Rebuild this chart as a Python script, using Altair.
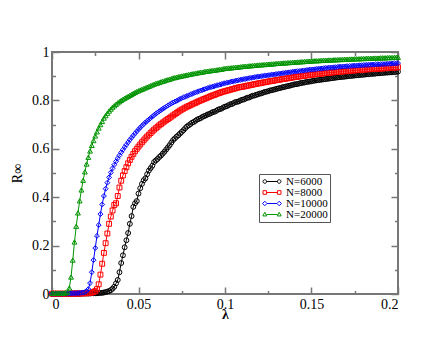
import altair as alt
import pandas as pd

# lambda sampling grid (step 0.001 from 0 to 0.2)
LAMBDA = [round(i * 0.001, 3) for i in range(201)]

LABELS = ["N=6000", "N=8000", "N=10000", "N=20000"]
COLORS = ["#000000", "#ff0000", "#0000ff", "#009400"]
SHAPES = ["circle", "square", "diamond", "triangle-up"]

R_6000 = [
    0.001, 0.001, 0.001, 0.001, 0.001, 0.001, 0.001, 0.001, 0.001, 0.001,
    0.001, 0.001, 0.001, 0.001, 0.001, 0.001, 0.001, 0.002, 0.002, 0.002,
    0.002, 0.002, 0.002, 0.003, 0.003, 0.003, 0.003, 0.004, 0.004, 0.005,
    0.006, 0.008, 0.010, 0.012, 0.016, 0.022, 0.030, 0.044, 0.058, 0.090,
    0.128, 0.160, 0.193, 0.222, 0.252, 0.290, 0.322, 0.360, 0.375, 0.384,
    0.415, 0.437, 0.455, 0.470, 0.478, 0.495, 0.510, 0.520, 0.530, 0.545,
    0.552, 0.558, 0.566, 0.572, 0.580, 0.588, 0.597, 0.606, 0.615, 0.626,
    0.636, 0.643, 0.650, 0.656, 0.663, 0.670, 0.677, 0.685, 0.692, 0.697,
    0.702, 0.708, 0.711, 0.716, 0.721, 0.724, 0.727, 0.732, 0.735, 0.738,
    0.742, 0.744, 0.748, 0.752, 0.753, 0.757, 0.762, 0.764, 0.766, 0.771,
    0.774, 0.776, 0.780, 0.784, 0.785, 0.789, 0.793, 0.794, 0.796, 0.800,
    0.803, 0.804, 0.808, 0.811, 0.812, 0.816, 0.819, 0.820, 0.823, 0.825,
    0.828, 0.829, 0.832, 0.835, 0.836, 0.838, 0.841, 0.842, 0.844, 0.846,
    0.848, 0.850, 0.851, 0.854, 0.855, 0.857, 0.859, 0.860, 0.862, 0.864,
    0.866, 0.867, 0.868, 0.870, 0.872, 0.873, 0.874, 0.876, 0.877, 0.878,
    0.879, 0.881, 0.882, 0.883, 0.884, 0.885, 0.886, 0.887, 0.888, 0.889,
    0.890, 0.891, 0.892, 0.893, 0.894, 0.895, 0.896, 0.897, 0.897, 0.898,
    0.899, 0.900, 0.901, 0.901, 0.902, 0.903, 0.904, 0.904, 0.905, 0.906,
    0.906, 0.907, 0.908, 0.908, 0.909, 0.910, 0.910, 0.911, 0.912, 0.912,
    0.913, 0.913, 0.914, 0.915, 0.915, 0.916, 0.916, 0.917, 0.917, 0.918,
    0.919,
]

R_8000 = [
    0.001, 0.001, 0.001, 0.001, 0.001, 0.001, 0.001, 0.001, 0.001, 0.001,
    0.001, 0.001, 0.002, 0.002, 0.002, 0.002, 0.002, 0.002, 0.003, 0.003,
    0.003, 0.004, 0.005, 0.006, 0.008, 0.012, 0.020, 0.040, 0.080, 0.125,
    0.170, 0.210, 0.250, 0.290, 0.320, 0.345, 0.368, 0.375, 0.405, 0.440,
    0.468, 0.490, 0.508, 0.524, 0.540, 0.554, 0.567, 0.579, 0.590, 0.600,
    0.609, 0.618, 0.627, 0.635, 0.643, 0.651, 0.658, 0.665, 0.672, 0.679,
    0.685, 0.691, 0.697, 0.702, 0.708, 0.713, 0.718, 0.723, 0.728, 0.733,
    0.738, 0.743, 0.748, 0.753, 0.758, 0.762, 0.766, 0.770, 0.774, 0.777,
    0.780, 0.784, 0.787, 0.790, 0.794, 0.797, 0.800, 0.803, 0.806, 0.809,
    0.812, 0.815, 0.818, 0.821, 0.823, 0.826, 0.829, 0.831, 0.834, 0.836,
    0.838, 0.840, 0.842, 0.844, 0.846, 0.848, 0.850, 0.852, 0.854, 0.855,
    0.856, 0.858, 0.859, 0.861, 0.862, 0.864, 0.865, 0.867, 0.868, 0.870,
    0.871, 0.872, 0.874, 0.875, 0.876, 0.878, 0.879, 0.880, 0.881, 0.883,
    0.884, 0.885, 0.886, 0.888, 0.889, 0.890, 0.891, 0.892, 0.893, 0.895,
    0.896, 0.897, 0.898, 0.899, 0.900, 0.901, 0.902, 0.903, 0.904, 0.905,
    0.906, 0.907, 0.908, 0.909, 0.909, 0.910, 0.911, 0.912, 0.913, 0.913,
    0.914, 0.915, 0.916, 0.916, 0.917, 0.918, 0.918, 0.919, 0.920, 0.920,
    0.921, 0.922, 0.922, 0.923, 0.924, 0.924, 0.925, 0.925, 0.926, 0.926,
    0.927, 0.928, 0.928, 0.929, 0.929, 0.930, 0.930, 0.931, 0.931, 0.931,
    0.932, 0.932, 0.933, 0.933, 0.934, 0.934, 0.935, 0.935, 0.936, 0.936,
    0.937,
]

R_10000 = [
    0.001, 0.001, 0.001, 0.001, 0.001, 0.002, 0.002, 0.002, 0.002, 0.002,
    0.002, 0.003, 0.003, 0.003, 0.003, 0.004, 0.004, 0.005, 0.006, 0.008,
    0.012, 0.020, 0.045, 0.090, 0.140, 0.190, 0.240, 0.285, 0.330, 0.370,
    0.405, 0.435, 0.460, 0.482, 0.502, 0.519, 0.534, 0.548, 0.561, 0.573,
    0.585, 0.596, 0.607, 0.617, 0.627, 0.637, 0.646, 0.655, 0.664, 0.672,
    0.680, 0.688, 0.695, 0.702, 0.709, 0.715, 0.721, 0.727, 0.733, 0.739,
    0.745, 0.750, 0.755, 0.760, 0.765, 0.770, 0.774, 0.779, 0.783, 0.787,
    0.791, 0.795, 0.798, 0.802, 0.806, 0.809, 0.812, 0.815, 0.818, 0.821,
    0.824, 0.827, 0.830, 0.833, 0.836, 0.838, 0.841, 0.843, 0.846, 0.848,
    0.851, 0.853, 0.855, 0.857, 0.859, 0.861, 0.863, 0.865, 0.867, 0.869,
    0.871, 0.873, 0.874, 0.876, 0.878, 0.879, 0.881, 0.882, 0.884, 0.885,
    0.887, 0.888, 0.889, 0.891, 0.892, 0.893, 0.894, 0.896, 0.897, 0.898,
    0.899, 0.900, 0.901, 0.902, 0.903, 0.904, 0.905, 0.906, 0.907, 0.908,
    0.909, 0.910, 0.911, 0.912, 0.913, 0.914, 0.915, 0.916, 0.917, 0.918,
    0.919, 0.920, 0.921, 0.921, 0.922, 0.923, 0.924, 0.925, 0.926, 0.927,
    0.928, 0.928, 0.929, 0.930, 0.931, 0.931, 0.932, 0.933, 0.934, 0.934,
    0.935, 0.936, 0.936, 0.937, 0.937, 0.938, 0.939, 0.939, 0.940, 0.940,
    0.941, 0.941, 0.942, 0.942, 0.943, 0.943, 0.944, 0.944, 0.945, 0.945,
    0.946, 0.946, 0.947, 0.947, 0.947, 0.948, 0.948, 0.949, 0.949, 0.949,
    0.950, 0.950, 0.950, 0.951, 0.951, 0.951, 0.952, 0.952, 0.953, 0.953,
    0.954,
]

R_20000 = [
    0.003, 0.003, 0.003, 0.003, 0.003, 0.003, 0.004, 0.004, 0.005, 0.008,
    0.025, 0.070, 0.140, 0.215, 0.280, 0.335, 0.385, 0.430, 0.470, 0.505,
    0.537, 0.565, 0.591, 0.614, 0.634, 0.653, 0.670, 0.686, 0.700, 0.713,
    0.727, 0.737, 0.747, 0.756, 0.764, 0.772, 0.778, 0.784, 0.790, 0.795,
    0.800, 0.805, 0.809, 0.813, 0.817, 0.821, 0.825, 0.829, 0.833, 0.837,
    0.840, 0.843, 0.846, 0.849, 0.852, 0.855, 0.858, 0.861, 0.864, 0.867,
    0.870, 0.872, 0.874, 0.877, 0.879, 0.881, 0.884, 0.886, 0.888, 0.890,
    0.893, 0.894, 0.896, 0.898, 0.899, 0.901, 0.902, 0.904, 0.905, 0.907,
    0.908, 0.910, 0.911, 0.912, 0.914, 0.915, 0.916, 0.917, 0.919, 0.920,
    0.921, 0.922, 0.923, 0.924, 0.925, 0.926, 0.927, 0.928, 0.929, 0.931,
    0.932, 0.933, 0.934, 0.934, 0.935, 0.936, 0.937, 0.937, 0.938, 0.939,
    0.940, 0.941, 0.941, 0.942, 0.943, 0.943, 0.944, 0.945, 0.945, 0.946,
    0.947, 0.947, 0.948, 0.948, 0.949, 0.950, 0.950, 0.951, 0.951, 0.952,
    0.953, 0.953, 0.954, 0.954, 0.955, 0.955, 0.956, 0.956, 0.957, 0.957,
    0.958, 0.958, 0.959, 0.959, 0.960, 0.960, 0.961, 0.961, 0.962, 0.962,
    0.963, 0.963, 0.964, 0.964, 0.964, 0.965, 0.965, 0.966, 0.966, 0.966,
    0.967, 0.967, 0.967, 0.968, 0.968, 0.968, 0.969, 0.969, 0.969, 0.970,
    0.970, 0.970, 0.971, 0.971, 0.971, 0.972, 0.972, 0.972, 0.972, 0.973,
    0.973, 0.973, 0.974, 0.974, 0.974, 0.974, 0.975, 0.975, 0.975, 0.975,
    0.976, 0.976, 0.976, 0.976, 0.977, 0.977, 0.977, 0.977, 0.978, 0.978,
    0.978,
]

X_MAJOR = [0, 0.05, 0.1, 0.15, 0.2]
X_MINOR = [0.025, 0.075, 0.125, 0.175]
Y_MAJOR = [0, 0.2, 0.4, 0.6, 0.8, 1]
Y_MINOR = [0.1, 0.3, 0.5, 0.7, 0.9]

SERIES = [R_6000, R_8000, R_10000, R_20000]
for s in SERIES:
    assert len(s) == len(LAMBDA), len(s)

rows = []
for label, vals in zip(LABELS, SERIES):
    for lam, r in zip(LAMBDA, vals):
        rows.append({"lam": lam, "R": r, "N": label})
df = pd.DataFrame(rows)

# legend symbols: a short line with a marker at each end
LEG_PATHS = [
    "M-1.167,0A0.6,0.6,0,1,0,0.033,0A0.6,0.6,0,1,0,-1.167,0Z M0.033,0L3.633,0 "
    "M3.633,0A0.6,0.6,0,1,0,4.833,0A0.6,0.6,0,1,0,3.633,0Z",
    "M-1.167,-0.6L0.033,-0.6L0.033,0.6L-1.167,0.6Z M0.033,0L3.633,0 "
    "M3.633,-0.6L4.833,-0.6L4.833,0.6L3.633,0.6Z",
    "M-0.567,-0.75L0.183,0L-0.567,0.75L-1.317,0Z M0.183,0L3.483,0 "
    "M4.233,-0.75L4.983,0L4.233,0.75L3.483,0Z",
    "M-0.567,-0.72L0.093,0.48L-1.227,0.48Z M0.033,0L3.633,0 "
    "M4.233,-0.72L4.893,0.48L3.573,0.48Z",
]

FRAME = "#777777"
FONT = "Times New Roman, Liberation Serif, DejaVu Serif, serif"

xsc = alt.Scale(domain=[0, 0.2], nice=False, zero=False)
ysc = alt.Scale(domain=[0, 1], nice=False, zero=False)
csc = alt.Scale(domain=LABELS, range=COLORS)


def tick_axis(orient, values, size):
    return alt.Axis(orient=orient, values=values, labels=False, domain=False,
                    ticks=True, tickSize=size, offset=-size, title=None,
                    tickColor=FRAME, tickWidth=1.5, grid=False)


def make_legend():
    return alt.Legend(orient="none", legendX=207, legendY=122, title=None,
                      fillColor="white", strokeColor="#555555", padding=2,
                      symbolSize=36, symbolStrokeWidth=1,
                      labelFont=FONT, labelFontSize=11, labelOffset=14,
                      rowPadding=-1, cornerRadius=0)


base = alt.Chart(df)

lines = base.mark_line(strokeWidth=1).encode(
    x=alt.X("lam:Q", scale=xsc,
            axis=alt.Axis(orient="bottom", values=X_MAJOR, format="~g", ticks=False,
                          tickSize=0, domain=False, grid=False, labelPadding=3,
                          title="λ", titleFontSize=14, titleFont=FONT,
                          titleFontWeight="bold", titleY=24, titleBaseline="alphabetic")),
    y=alt.Y("R:Q", scale=ysc,
            axis=alt.Axis(orient="left", values=Y_MAJOR, format="~g", ticks=False,
                          tickSize=0, domain=False, grid=False, labelPadding=3,
                          title="R∞", titleFontSize=14, titleFont=FONT,
                          titleFontWeight="normal", titleX=-31, titleY=121,
                          titleAngle=270, titleBaseline="alphabetic", titleAlign="center")),
    color=alt.Color("N:N", scale=csc, legend=None),
    detail="N:N",
)

points = base.mark_point(filled=False, opacity=1, strokeWidth=1, size=24).encode(
    x=alt.X("lam:Q", scale=xsc, axis=tick_axis("bottom", X_MAJOR, 7)),
    y=alt.Y("R:Q", scale=ysc, axis=tick_axis("left", Y_MAJOR, 7)),
    color=alt.Color("N:N", scale=csc, legend=None),
    shape=alt.Shape("N:N", scale=alt.Scale(domain=LABELS, range=SHAPES), legend=None),
)

legend_layer = base.transform_filter("datum.lam < 0").mark_point(
    filled=False, opacity=1, strokeWidth=1).encode(
    x=alt.X("lam:Q", scale=xsc, axis=tick_axis("bottom", X_MINOR, 3.5)),
    y=alt.Y("R:Q", scale=ysc, axis=tick_axis("left", Y_MINOR, 3.5)),
    color=alt.Color("N:N", scale=csc, legend=make_legend()),
    shape=alt.Shape("N:N", scale=alt.Scale(domain=LABELS, range=LEG_PATHS),
                    legend=make_legend()),
)

top_major = base.transform_filter("datum.lam < 0").mark_point(opacity=0).encode(
    x=alt.X("lam:Q", scale=xsc, axis=tick_axis("top", X_MAJOR, 7)),
    y=alt.Y("R:Q", scale=ysc, axis=tick_axis("right", Y_MAJOR, 7)),
)
top_minor = base.transform_filter("datum.lam < 0").mark_point(opacity=0).encode(
    x=alt.X("lam:Q", scale=xsc, axis=tick_axis("top", X_MINOR, 3.5)),
    y=alt.Y("R:Q", scale=ysc, axis=tick_axis("right", Y_MINOR, 3.5)),
)

chart = alt.layer(lines, points, legend_layer, top_major, top_minor).resolve_scale(
    color="independent", shape="independent"
).resolve_axis(
    x="independent", y="independent"
).properties(
    width=346, height=242,
    autosize=alt.AutoSizeParams(type="none"),
    padding={"left": 44, "top": 44, "right": 42, "bottom": 44},
).configure(
    font=FONT
).configure_view(
    stroke=FRAME, strokeWidth=2
).configure_axis(
    labelFont=FONT, labelFontSize=14, labelColor="black", titleColor="black"
)

chart.save("out.html", embed_options={"renderer": "svg", "actions": False})
